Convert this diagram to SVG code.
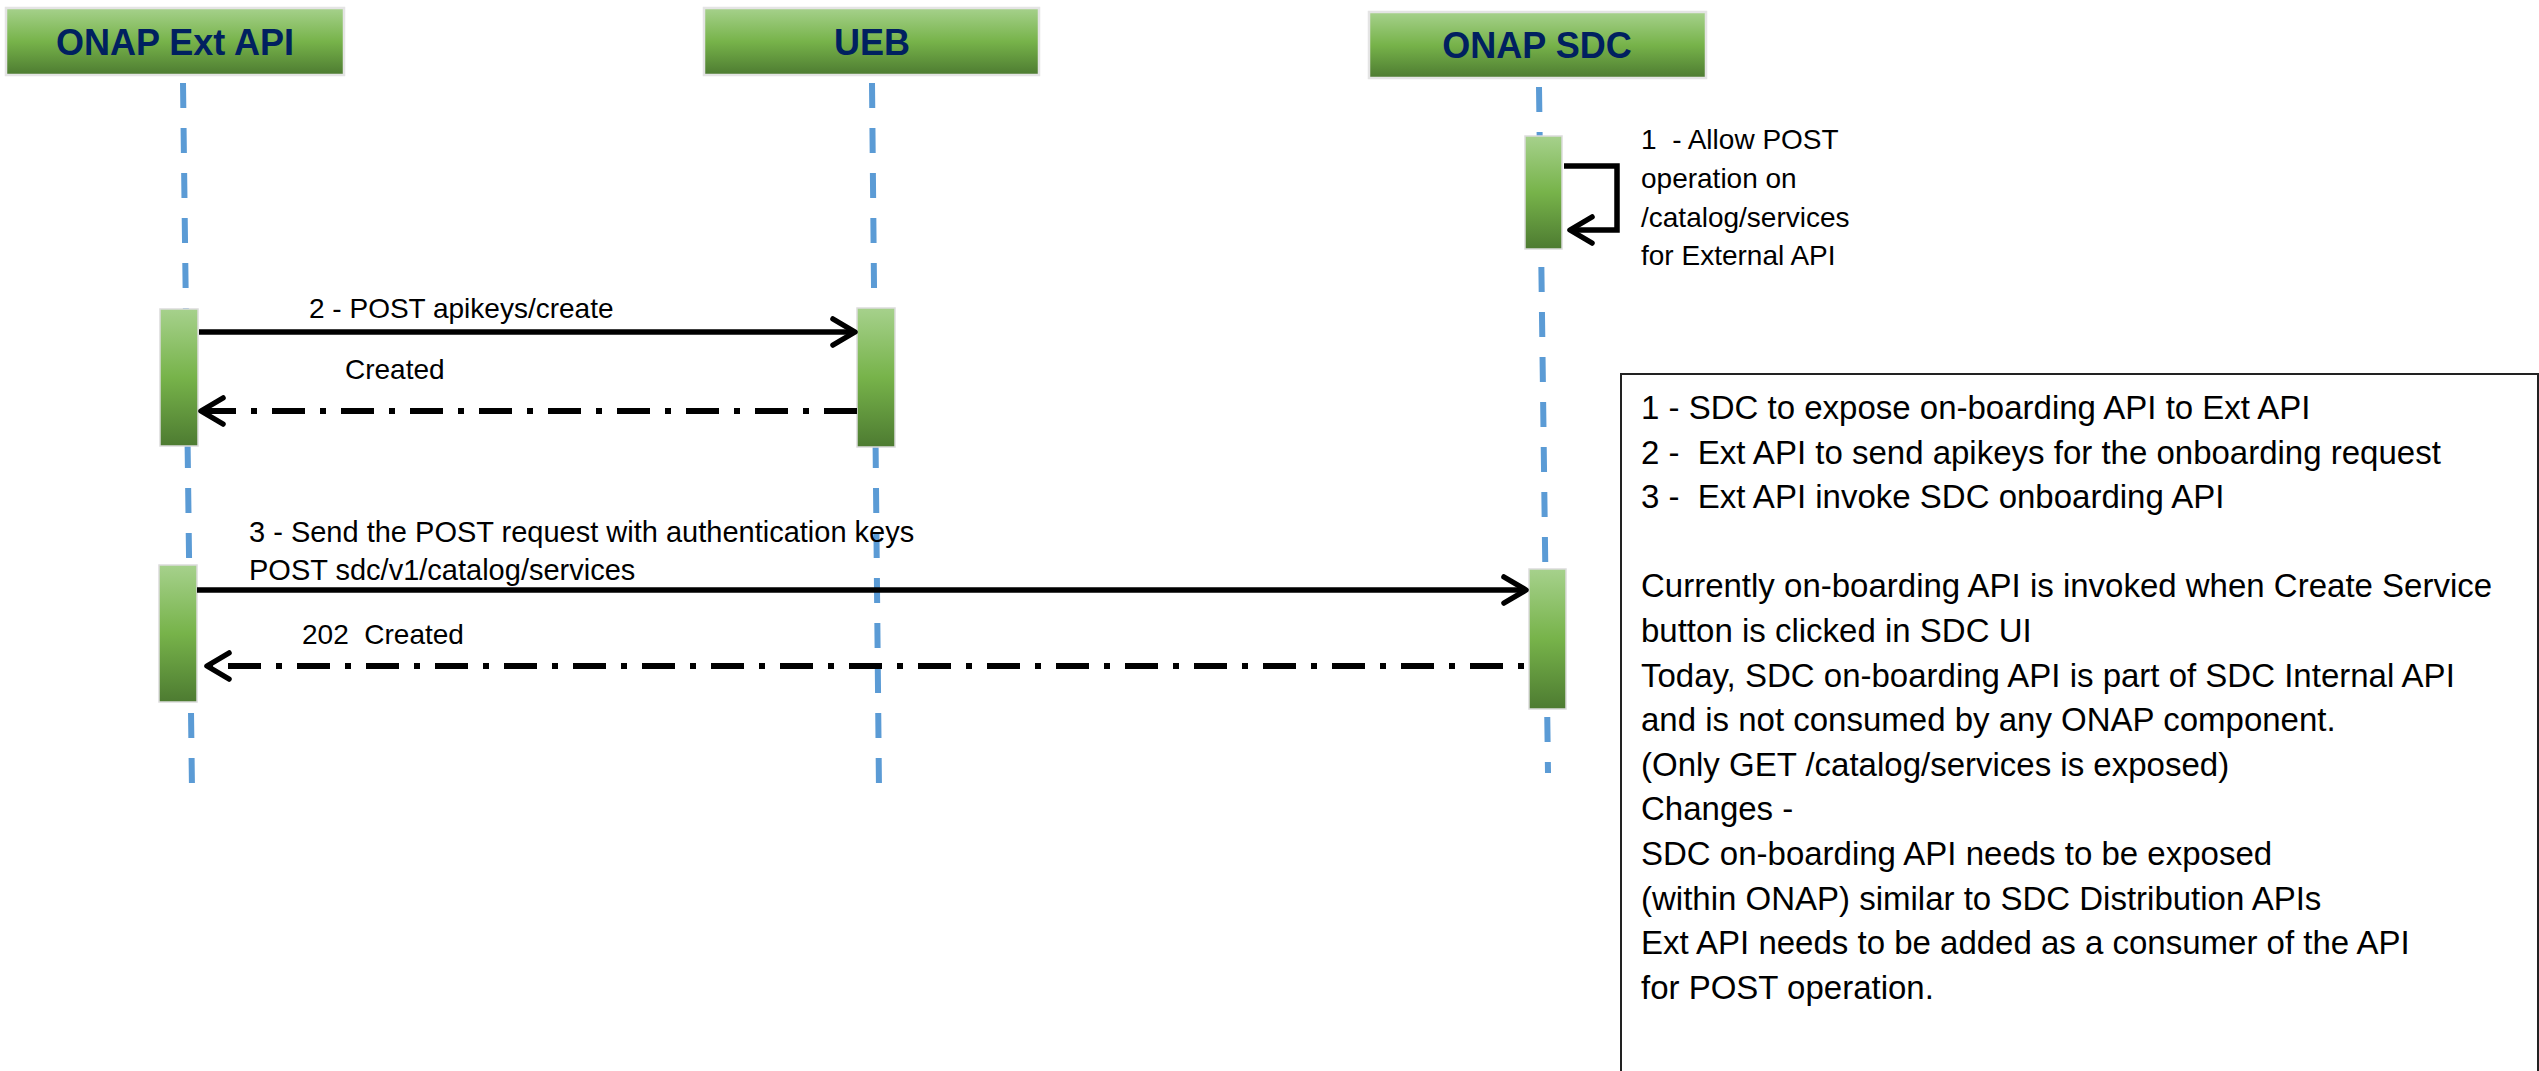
<svg xmlns="http://www.w3.org/2000/svg" width="2539" height="1071" viewBox="0 0 2539 1071">
<defs>
<linearGradient id="g" x1="0" y1="0" x2="0" y2="1">
<stop offset="0" stop-color="#A6D18C"/>
<stop offset="0.5" stop-color="#77B34A"/>
<stop offset="1" stop-color="#4D7B31"/>
</linearGradient>
<marker id="ah" markerUnits="userSpaceOnUse" viewBox="-30 -20 36 40" markerWidth="36" markerHeight="40" refX="0" refY="0" orient="auto" overflow="visible">
<path d="M-22,-13 L0,0 L-22,13" fill="none" stroke="#000" stroke-width="5.5" stroke-linecap="round" stroke-linejoin="round"/>
</marker>
</defs>
<style>
.hdr{fill:url(#g);stroke:#E4E4E4;stroke-width:2.5}
.act{fill:url(#g);stroke:#DCDCDC;stroke-width:1.5}
.ht{font-family:"Liberation Sans",Arial,sans-serif;font-weight:bold;font-size:36px;fill:#002060;text-anchor:middle}
.life{stroke:#5B9BD5;stroke-width:6;stroke-dasharray:25 20;fill:none}
.msg{stroke:#000;stroke-width:5.5;fill:none}
.ret{stroke:#000;stroke-width:6;fill:none;stroke-dasharray:33 15 6 15}
.lbl{font-family:"Liberation Sans",Arial,sans-serif;font-size:28px;fill:#000}
.lbl3{font-size:29px}
.note{font-family:"Liberation Sans",Arial,sans-serif;font-size:33px;fill:#000}
.box{fill:#fff;stroke:#222;stroke-width:2}
</style>
<rect width="2539" height="1071" fill="#fff"/>

<g id="lifelines">
<line class="life" x1="183" y1="83" x2="192" y2="790"/>
<line class="life" x1="872" y1="83" x2="879" y2="790"/>
<line class="life" x1="1539" y1="87" x2="1548" y2="773"/>
</g>

<g id="ext-api">
<rect class="hdr" x="6" y="8" width="338" height="67"/>
<text class="ht" x="175" y="55">ONAP Ext API</text>
</g>
<g id="ueb">
<rect class="hdr" x="704" y="8" width="335" height="67"/>
<text class="ht" x="872" y="55">UEB</text>
</g>
<g id="onap-sdc">
<rect class="hdr" x="1369" y="12" width="337" height="66"/>
<text class="ht" x="1537" y="58">ONAP SDC</text>
</g>

<g id="act-sdc-1"><rect class="act" x="1525" y="136" width="37" height="113"/></g>
<g id="act-ext-2"><rect class="act" x="160" y="309" width="38" height="137"/></g>
<g id="act-ueb-2"><rect class="act" x="857" y="308" width="38" height="139"/></g>
<g id="act-ext-3"><rect class="act" x="159" y="565" width="38" height="137"/></g>
<g id="act-sdc-3"><rect class="act" x="1529" y="569" width="37" height="140"/></g>

<g id="connectors">
<path class="msg" d="M1564,166 L1617,166 L1617,230 L1570,230" marker-end="url(#ah)"/>
<path class="msg" d="M199,332 L855,332" marker-end="url(#ah)"/>
<path class="ret" d="M857,411 L201,411" marker-end="url(#ah)"/>
<path class="msg" d="M197,590 L1526,590" marker-end="url(#ah)"/>
<path class="ret" style="stroke-dashoffset:45" d="M1527,666 L207,666" marker-end="url(#ah)"/>
</g>

<g id="labels">
<text class="lbl" xml:space="preserve" x="1641" y="149">1  - Allow POST</text>
<text class="lbl" x="1641" y="188">operation on</text>
<text class="lbl" x="1641" y="227">/catalog/services</text>
<text class="lbl" x="1641" y="265">for External API</text>
<text class="lbl" x="309" y="318">2 - POST apikeys/create</text>
<text class="lbl" x="345" y="379">Created</text>
<text class="lbl lbl3" x="249" y="542">3 - Send the POST request with authentication keys</text>
<text class="lbl lbl3" x="249" y="580">POST sdc/v1/catalog/services</text>
<text class="lbl" xml:space="preserve" x="302" y="644">202  Created</text>
</g>

<g id="note">
<rect class="box" x="1621" y="374" width="917" height="720"/>
<text class="note" x="1641" y="419">1 - SDC to expose on-boarding API to Ext API</text>
<text class="note" xml:space="preserve" x="1641" y="463.6">2 -  Ext API to send apikeys for the onboarding request</text>
<text class="note" xml:space="preserve" x="1641" y="508.2">3 -  Ext API invoke SDC onboarding API</text>
<text class="note" x="1641" y="597.4">Currently on-boarding API is invoked when Create Service</text>
<text class="note" x="1641" y="642">button is clicked in SDC UI</text>
<text class="note" x="1641" y="686.6">Today, SDC on-boarding API is part of SDC Internal API</text>
<text class="note" x="1641" y="731.2">and is not consumed by any ONAP component.</text>
<text class="note" x="1641" y="775.8">(Only GET /catalog/services is exposed)</text>
<text class="note" x="1641" y="820.4">Changes -</text>
<text class="note" x="1641" y="865">SDC on-boarding API needs to be exposed</text>
<text class="note" x="1641" y="909.6">(within ONAP) similar to SDC Distribution APIs</text>
<text class="note" x="1641" y="954.2">Ext API needs to be added as a consumer of the API</text>
<text class="note" x="1641" y="998.8">for POST operation.</text>
</g>
</svg>
